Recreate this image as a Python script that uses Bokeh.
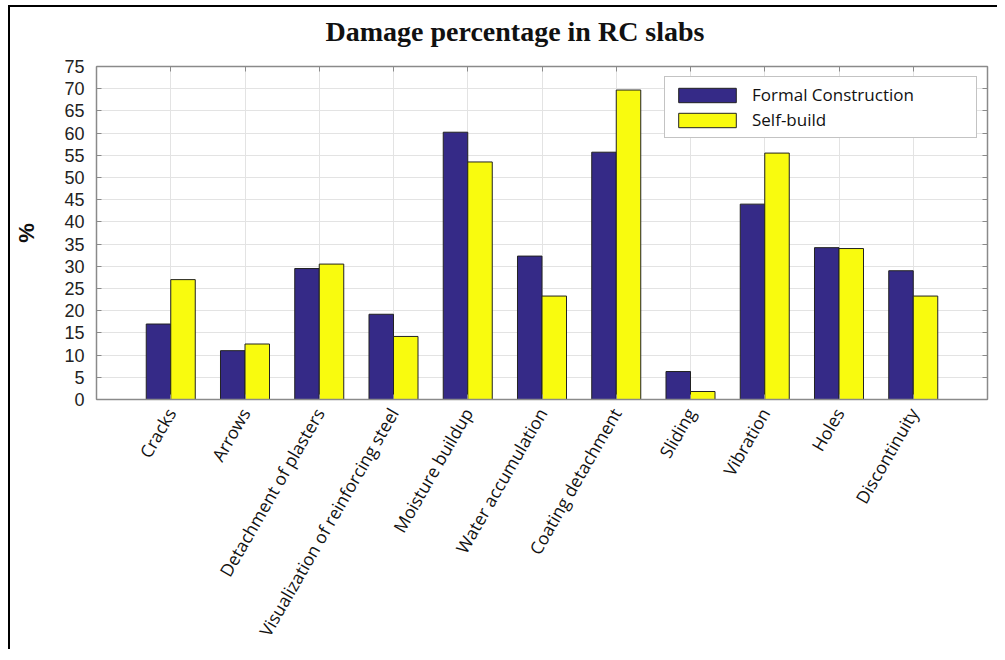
import math
from bokeh.plotting import figure
from bokeh.models import (Range1d, FixedTicker, LinearAxis, Legend, LegendItem,
                          ColumnDataSource)
from bokeh.transform import dodge
from bokeh.embed import file_html
from bokeh.resources import INLINE

title_text = "Damage percentage in RC slabs"
categories = ["Cracks", "Arrows", "Detachment of plasters",
              "Visualization of reinforcing steel", "Moisture buildup",
              "Water accumulation", "Coating detachment", "Sliding",
              "Vibration", "Holes", "Discontinuity"]
formal = [17.0, 11.0, 29.5, 19.2, 60.2, 32.3, 55.7, 6.3, 44.0, 34.2, 29.0]
self_build = [27.0, 12.5, 30.5, 14.2, 53.5, 23.3, 69.7, 1.8, 55.5, 34.0, 23.3]
y_ticks = list(range(0, 80, 5))

positions = list(range(1, len(categories) + 1))
src = ColumnDataSource(dict(x=positions, formal=formal, self_build=self_build))

BLUE = "#352A87"
YELLOW = "#F9FB0E"
GRID = "#e3e3e3"
AX = "#8a8a8a"

p = figure(frame_width=891, frame_height=333, output_backend="svg", toolbar_location=None,
           x_range=Range1d(0, len(categories) + 1), y_range=Range1d(0, 75),
           min_border_left=86, min_border_top=59, min_border_right=10,
           min_border_bottom=245, title=title_text,
           styles={"border-left": "2px solid black", "border-top": "2px solid black",
                   "margin-left": "8px", "margin-top": "5px"})

p.title.align = "left"
p.title.offset = 229
p.title.text_font = "Liberation Serif"
p.title.text_font_size = "28px"
p.title.text_font_style = "bold"
p.title.text_color = "#111111"
p.title.standoff = 6

bw = 0.33
r1 = p.vbar(x=dodge("x", -bw / 2, range=p.x_range), top="formal", width=bw,
            source=src, fill_color=BLUE, line_color="#222222", line_width=1)
r2 = p.vbar(x=dodge("x", bw / 2, range=p.x_range), top="self_build", width=bw,
            source=src, fill_color=YELLOW, line_color="#222222", line_width=1)

# axes
xa = p.xaxis[0]
xa.ticker = FixedTicker(ticks=positions)
xa.major_label_overrides = {pos: c for pos, c in zip(positions, categories)}
xa.major_label_orientation = math.pi / 3
xa.major_label_text_font = "Open Sans"
xa.major_label_text_font_size = "17.5px"
xa.major_label_text_color = "#111111"
xa.major_label_standoff = 10
xa.major_tick_in = 5
xa.major_tick_out = 0
xa.minor_tick_line_color = None
xa.axis_line_color = AX
xa.axis_line_width = 1.5
xa.major_tick_line_color = AX

ya = p.yaxis[0]
ya.ticker = FixedTicker(ticks=y_ticks)
ya.major_label_text_font = "Liberation Sans"
ya.major_label_text_font_size = "18px"
ya.major_label_text_color = "#222222"
ya.major_label_standoff = 12
ya.major_tick_in = 5
ya.major_tick_out = 0
ya.minor_tick_line_color = None
ya.axis_line_color = AX
ya.axis_line_width = 1.5
ya.major_tick_line_color = AX
ya.axis_label = "%"
ya.axis_label_text_font = "Liberation Sans"
ya.axis_label_text_font_size = "22px"
ya.axis_label_text_font_style = "bold"
ya.axis_label_text_color = "#111111"
ya.axis_label_standoff = 22

# mirrored box axes (top and right) with ticks only; the top one also keeps
# a small gap between the title and the plot frame
top_ax = LinearAxis(ticker=FixedTicker(ticks=positions), major_label_text_font_size="0px",
                    major_tick_in=5, major_tick_out=0, minor_tick_line_color=None,
                    axis_line_color=AX, axis_line_width=1.5, major_tick_line_color=AX,
                    major_label_standoff=0, axis_label="\u00a0",
                    axis_label_text_font_size="2px", axis_label_standoff=12)
right_ax = LinearAxis(ticker=FixedTicker(ticks=y_ticks), major_label_text_font_size="0px",
                      major_tick_in=5, major_tick_out=0, minor_tick_line_color=None,
                      axis_line_color=AX, axis_line_width=1.5, major_tick_line_color=AX,
                      major_label_standoff=0)
p.add_layout(top_ax, "above")
p.add_layout(right_ax, "right")

p.xgrid.ticker = FixedTicker(ticks=positions)
p.ygrid.ticker = FixedTicker(ticks=y_ticks)
p.xgrid.grid_line_color = GRID
p.ygrid.grid_line_color = GRID
p.outline_line_color = AX

legend = Legend(items=[LegendItem(label="Formal Construction", renderers=[r1]),
                       LegendItem(label="Self-build", renderers=[r2])],
                location="top_right")
legend.glyph_width = 72
legend.glyph_height = 18
legend.label_text_font = "Open Sans"
legend.label_text_font_size = "17px"
legend.label_text_color = "#111111"
legend.spacing = 2
legend.padding = 6
legend.margin = 10
legend.label_standoff = 9
legend.label_width = 218
legend.border_line_color = "#888888"
legend.border_line_width = 1.5
legend.background_fill_alpha = 1
p.add_layout(legend)

open("out.html", "w").write(file_html(p, INLINE))
